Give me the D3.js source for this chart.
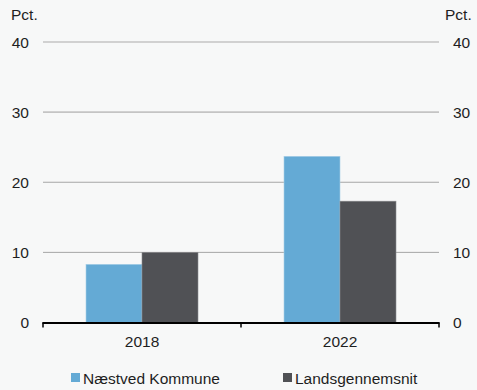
<!DOCTYPE html>
<html><head><meta charset="utf-8">
<script src="https://cdn.jsdelivr.net/npm/d3@7"></script>
<style>
html,body{margin:0;padding:0;background:#f7f8f8;}
svg{display:block;font-family:"Liberation Sans",Arial,sans-serif;}
</style></head>
<body>
<svg id="c" width="477" height="390"></svg>
<script>
const categories = ["2018", "2022"];
const seriesNames = ["Næstved Kommune", "Landsgennemsnit"];
const naestved = [8.3, 23.7];
const lands = [10.0, 17.3];
const yTicks = [0, 10, 20, 30, 40];
const colors = ["#64aad5", "#505155"];

(function () {
const svg = d3.select("#c");
const mLeft = 43, mRight = 439, mTop = 42, mBottom = 322.5;
const fs = 15.5, txt = "#1e1e1e";

const x = d3.scaleBand().domain(categories).range([mLeft, mRight]).paddingInner(0).paddingOuter(0);
const x1 = d3.scaleBand().domain(seriesNames).range([0, x.bandwidth()]).paddingInner(0).paddingOuter(0.768);
const y = d3.scaleLinear().domain([0, 40]).range([mBottom, mTop]);

svg.append("rect").attr("width", 477).attr("height", 390).attr("fill", "#f7f8f8");

// gridlines
svg.append("g").selectAll("line").data(yTicks.filter(d => d > 0)).join("line")
  .attr("x1", mLeft).attr("x2", mRight)
  .attr("y1", d => y(d)).attr("y2", d => y(d))
  .attr("stroke", d => d >= 30 ? "#c4c4c4" : "#a6a6a6")
  .attr("stroke-width", d => d >= 30 ? 1.6 : 1);

// bars
const data = categories.map((c, i) => ({cat: c, vals: [naestved[i], lands[i]]}));
const g = svg.append("g").selectAll("g").data(data).join("g")
  .attr("transform", d => `translate(${x(d.cat)},0)`);
g.selectAll("rect").data(d => d.vals.map((v, j) => ({name: seriesNames[j], v, j}))).join("rect")
  .attr("x", d => x1(d.name))
  .attr("width", x1.bandwidth())
  .attr("y", d => y(d.v))
  .attr("height", d => y(0) - y(d.v))
  .attr("fill", d => colors[d.j])
  .attr("stroke", d => d.j === 0 ? "#a9d0e8" : "#8a8b8e")
  .attr("stroke-width", 0.6);

// left axis labels
svg.append("g").selectAll("text").data(yTicks).join("text")
  .attr("x", 29).attr("y", d => y(d)).attr("dy", "0.36em")
  .attr("text-anchor", "end").attr("font-size", fs).attr("fill", txt)
  .text(d => d);
// right axis labels
svg.append("g").selectAll("text").data(yTicks).join("text")
  .attr("x", 453).attr("y", d => y(d)).attr("dy", "0.36em")
  .attr("text-anchor", "start").attr("font-size", fs).attr("fill", txt)
  .text(d => d);

svg.append("text").attr("x", 11).attr("y", 20).attr("font-size", fs).attr("fill", txt).text("Pct.");
svg.append("text").attr("x", 445).attr("y", 20).attr("font-size", fs).attr("fill", txt).text("Pct.");

// x axis
const xAxis = d3.axisBottom(x).tickSize(0).tickPadding(0);
const ax = svg.append("g").attr("transform", `translate(0,${y(0)})`).call(xAxis);
ax.select(".domain").remove();
ax.selectAll(".tick text").attr("font-size", fs).attr("fill", txt)
  .attr("font-family", "Liberation Sans, Arial, sans-serif").attr("dy", null).attr("y", 24.5);
svg.append("line").attr("x1", mLeft - 0.5).attr("x2", mRight + 0.5).attr("y1", y(0) + 0.5).attr("y2", y(0) + 0.5)
  .attr("stroke", "#000").attr("stroke-width", 2);
const tickPos = [mLeft, x(categories[1]), mRight];
svg.append("g").selectAll("line").data(tickPos).join("line")
  .attr("x1", d => d).attr("x2", d => d).attr("y1", y(0)).attr("y2", y(0) + 5)
  .attr("stroke", "#000").attr("stroke-width", 1.5);

// legend
const legX = [71, 283];
const lg = svg.append("g").selectAll("g").data(seriesNames).join("g")
  .attr("transform", (d, i) => `translate(${legX[i]},373)`);
lg.append("rect").attr("width", 9).attr("height", 9).attr("fill", (d, i) => colors[i]);
lg.append("text").attr("x", 12).attr("y", 10.5).attr("font-size", fs).attr("fill", txt).text(d => d);
})();
</script>
</body></html>
